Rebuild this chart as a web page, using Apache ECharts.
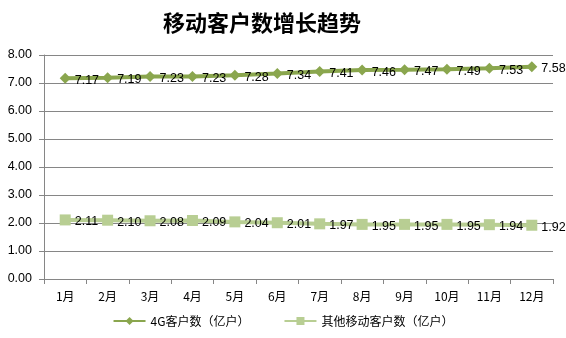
<!DOCTYPE html>
<html><head><meta charset="utf-8">
<script src="https://cdn.jsdelivr.net/npm/echarts@6/dist/echarts.min.js"></script>
<style>html,body{margin:0;padding:0;background:#fff}#c{width:566px;height:338px}</style>
</head><body><div id="c"></div>
<script>
const categories = ['1月','2月','3月','4月','5月','6月','7月','8月','9月','10月','11月','12月'];
const series4G = [7.17,7.19,7.23,7.23,7.28,7.34,7.41,7.46,7.47,7.49,7.53,7.58];
const seriesOther = [2.11,2.10,2.08,2.09,2.04,2.01,1.97,1.95,1.95,1.95,1.94,1.92];
const name4G = '4G客户数（亿户）';
const nameOther = '其他移动客户数（亿户）';
const chart = echarts.init(document.getElementById('c'));
const lbl = {show:true, position:'right', distance:4, color:'#000', fontSize:12.5, fontFamily:'Liberation Sans', formatter: p => p.value.toFixed(2), offset:[0,2]};
chart.setOption({
  animation:false,
  title:{text:'移动客户数增长趋势', left:158, top:7, textStyle:{fontFamily:'Noto Sans CJK SC', fontWeight:'bold', fontSize:22, color:'#000'}},
  legend:{bottom:6, left:'center', itemWidth:32, itemHeight:10, itemGap:34, textStyle:{fontSize:12, color:'#000', fontFamily:'Noto Sans CJK SC'}, data:[name4G, nameOther]},
  grid:{left:44, right:13, top:55, bottom:59},
  xAxis:{type:'category', data:categories, boundaryGap:true,
    axisLine:{lineStyle:{color:'#868686'}},
    axisTick:{show:true, length:5, inside:false, lineStyle:{color:'#868686'}},
    axisLabel:{color:'#000', fontSize:12, margin:11, fontFamily:'Noto Sans CJK SC'}},
  yAxis:{type:'value', min:0, max:8, interval:1,
    axisLine:{show:true, lineStyle:{color:'#868686'}},
    axisTick:{show:true, length:5, lineStyle:{color:'#868686'}},
    splitLine:{lineStyle:{color:'#868686'}},
    axisLabel:{color:'#000', fontSize:12.5, margin:12, fontFamily:'Liberation Sans', formatter: v => v.toFixed(2)}},
  series:[
    {name:name4G, type:'line', data:series4G, symbol:'diamond', symbolSize:11,
     lineStyle:{color:'#8AA64E', width:4}, itemStyle:{color:'#8AA64E'}, label:lbl},
    {name:nameOther, type:'line', data:seriesOther, symbol:'rect', symbolSize:11,
     lineStyle:{color:'#B8CE93', width:4}, itemStyle:{color:'#B8CE93'}, label:lbl}
  ]
});
</script></body></html>
